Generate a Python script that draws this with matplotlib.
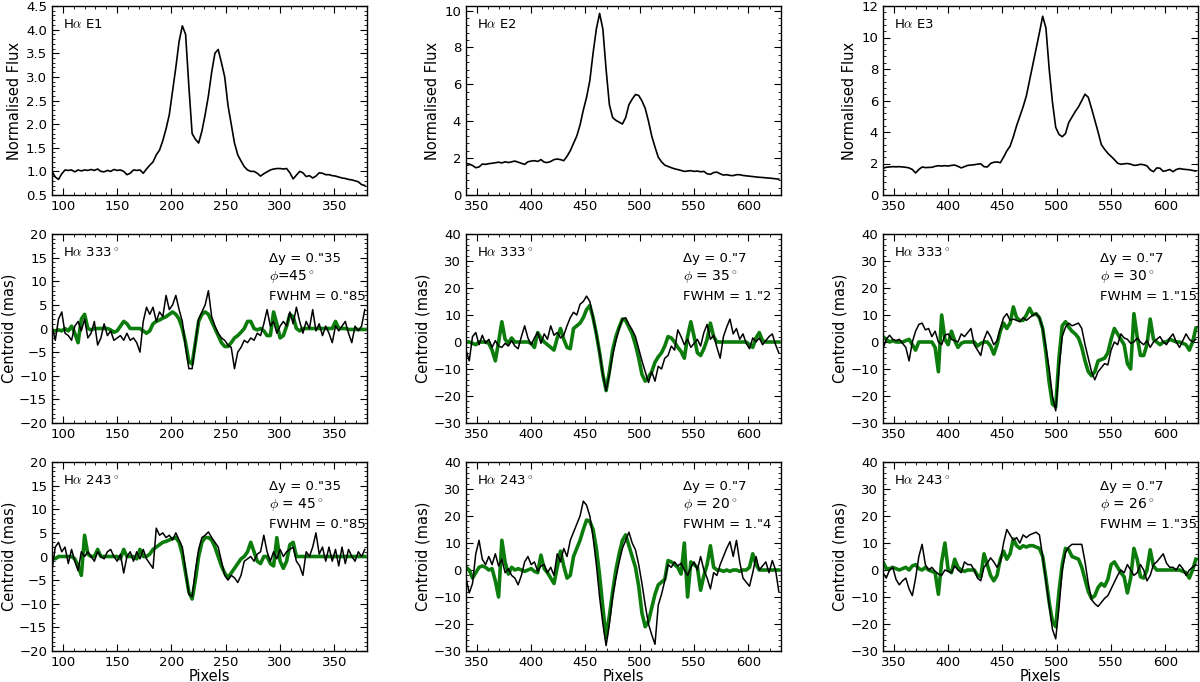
import numpy as np
import matplotlib
matplotlib.use("Agg")
import matplotlib.pyplot as plt
from matplotlib.ticker import AutoMinorLocator, MultipleLocator

PIX_E1 = np.arange(90, 381, 3)
PIX_E23 = np.arange(340, 631, 3)

flux_e1 = [1.00, 0.88, 0.83, 0.95, 1.03, 1.02, 1.03, 0.99, 1.03, 1.01,
           1.03, 1.02, 1.04, 1.02, 1.05, 1.00, 0.99, 1.02, 1.00, 1.04,
           1.02, 1.03, 1.00, 0.93, 0.96, 1.03, 1.02, 1.03, 0.96, 1.05,
           1.13, 1.20, 1.35, 1.45, 1.65, 1.90, 2.20, 2.70, 3.20, 3.75,
           4.08, 3.90, 2.80, 1.80, 1.68, 1.60, 1.85, 2.20, 2.60, 3.10,
           3.50, 3.58, 3.30, 3.00, 2.40, 2.00, 1.60, 1.35, 1.22, 1.10,
           1.03, 1.00, 1.00, 0.96, 0.90, 0.95, 0.99, 1.03, 1.05, 1.06,
           1.06, 1.05, 1.06, 0.97, 0.84, 0.92, 1.00, 0.97, 0.89, 0.91,
           0.86, 0.90, 0.97, 0.96, 0.93, 0.93, 0.91, 0.90, 0.88, 0.86,
           0.85, 0.83, 0.82, 0.80, 0.78, 0.72, 0.70]

flux_e2 = [1.70, 1.68, 1.60, 1.48, 1.52, 1.68, 1.66, 1.70, 1.72, 1.75,
           1.78, 1.74, 1.80, 1.76, 1.80, 1.84, 1.78, 1.72, 1.66, 1.80,
           1.84, 1.86, 1.82, 1.92, 1.78, 1.76, 1.82, 1.92, 1.95, 1.92,
           1.86, 2.10, 2.40, 2.80, 3.20, 3.80, 4.60, 5.30, 6.20, 7.70,
           9.00, 9.85, 9.00, 6.80, 4.90, 4.20, 4.05, 3.95, 3.85, 4.20,
           4.90, 5.20, 5.45, 5.40, 5.10, 4.70, 4.00, 3.20, 2.60, 2.05,
           1.80, 1.62, 1.55, 1.48, 1.42, 1.38, 1.33, 1.28, 1.30, 1.32,
           1.28, 1.30, 1.26, 1.28, 1.15, 1.12, 1.22, 1.24, 1.15, 1.08,
           1.10, 1.06, 1.05, 1.10, 1.10, 1.06, 1.04, 1.02, 1.00, 0.98,
           0.96, 0.95, 0.93, 0.92, 0.90, 0.88, 0.86]

flux_e3 = [1.70, 1.76, 1.78, 1.80, 1.79, 1.80, 1.78, 1.76, 1.72, 1.62,
           1.40, 1.62, 1.78, 1.74, 1.75, 1.76, 1.82, 1.86, 1.84, 1.86,
           1.84, 1.88, 1.90, 1.82, 1.72, 1.80, 1.88, 1.90, 1.92, 1.96,
           1.98, 1.80, 1.78, 2.00, 2.08, 2.10, 2.05, 2.40, 2.80, 3.10,
           3.70, 4.40, 5.00, 5.60, 6.30, 7.30, 8.30, 9.30, 10.30, 11.35,
           10.60, 8.00, 5.90, 4.30, 3.85, 3.70, 3.90, 4.60, 4.95, 5.30,
           5.60, 6.00, 6.40, 6.20, 5.50, 4.75, 4.00, 3.20, 2.90, 2.65,
           2.45, 2.25, 2.02, 1.95, 1.98, 2.00, 1.96, 1.88, 1.90, 1.95,
           1.92, 1.85, 1.60, 1.48, 1.72, 1.70, 1.50, 1.55, 1.62, 1.48,
           1.62, 1.68, 1.64, 1.62, 1.60, 1.56, 1.52]

# centroid, E1 slit at 333 deg: observed (black) and model (green)
e1_333_obs = [0.5, -2.5, 2.0, 3.5, -1.0, -1.5, -2.5, 0.5, 1.5, -0.5,
              2.0, -2.0, -1.0, 1.5, -3.5, -2.0, 1.0, -1.5, -0.5, -2.5,
              -2.0, -1.5, -2.5, -1.0, -2.5, -2.0, -3.0, -5.0, 1.5, 4.5,
              3.0, 4.5, 1.5, 3.5, 2.5, 7.0, 4.0, 5.0, 7.0, 4.0,
              1.5, -4.0, -8.5, -8.5, -3.0, 2.0, 3.5, 5.0, 8.0, 2.5,
              0.5, -1.0, -2.0, -2.5, -3.5, -4.0, -8.5, -5.0, -4.0, -2.5,
              -3.0, -2.0, -2.5, -1.0, -1.5, 1.0, 4.0, 0.5, 1.5, -1.0,
              0.5, 1.5, 0.5, 3.5, 1.0, 4.5, 1.5, -1.0, 1.5, 0.0,
              4.0, -0.5, 1.0, -1.5, 0.5, -1.0, -3.0, 0.5, -0.5, 0.5,
              1.5, -1.0, -3.0, 0.5, -0.5, 0.5, 4.0]
e1_333_mod = [-0.5, -0.5, -0.3, -0.5, 0.0, -0.5, 0.5, -1.0, -3.0, 2.0,
              3.0, 0.0, -0.3, 0.0, 0.0, 0.0, 0.0, 0.0, -0.3, -0.8,
              -0.5, 0.5, 1.5, 1.0, 0.0, 0.0, 0.0, 0.0, -0.5, -1.0,
              -0.5, 1.0, 1.5, 1.8, 2.2, 2.5, 3.0, 3.5, 3.0, 2.0,
              0.0, -3.0, -7.0, -7.5, -3.0, 1.5, 3.0, 3.5, 3.0, 1.5,
              0.0, -1.5, -3.0, -3.8, -3.8, -3.0, -2.0, -1.5, -0.8, 0.0,
              1.5, 1.5, 0.0, -0.3, 0.0, -0.5, -1.5, -1.5, 3.5, 1.0,
              -2.0, -1.5, 0.5, 3.0, 2.5, 0.0, -0.5, 0.0, 0.0, 0.0,
              0.0, 0.0, 0.0, 0.0, 0.0, 0.0, 0.0, 1.5, 0.0, 0.0,
              0.0, -0.2, -0.2, -0.2, -0.2, -0.2, -0.2]

# centroid, E1 slit at 243 deg
e1_243_obs = [-3.0, 2.0, 3.0, 1.0, 2.0, -1.5, 1.5, -1.0, -3.0, 1.0,
              0.0, 1.0, 0.0, -1.0, 1.0, 0.0, -0.5, 1.0, 1.5, 0.0,
              -1.0, 0.5, -3.5, 0.0, 1.0, -1.0, 1.0, -0.5, 1.5, -0.5,
              -1.5, -2.5, 6.0, 4.5, 5.0, 4.0, 4.5, 3.5, 5.0, 3.5,
              2.0, -3.0, -8.0, -8.5, -3.0, 1.5, 4.0, 4.5, 5.2, 4.0,
              3.0, 2.0, -1.0, -4.0, -5.0, -4.0, -4.5, -5.5, -4.0, -1.0,
              -0.5, 0.0, -1.0, 0.5, 1.0, 4.5, 1.0, -1.0, 1.0, -0.5,
              1.5, 0.0, 1.0, 1.5, 2.0, -1.0, -2.0, -4.0, 1.0, 0.0,
              2.0, 5.0, 0.5, 2.0, -1.0, 2.0, -1.0, 1.5, -2.0, 2.0,
              -1.5, 1.5, 0.0, -1.0, 1.0, 0.0, 1.5]
e1_243_mod = [0.0, -0.5, 0.0, 0.0, 0.0, 0.0, 0.0, -0.5, -2.0, -4.0,
              4.5, 0.5, 0.0, 0.0, 1.5, 0.0, 0.0, 0.0, 0.0, 0.0,
              0.0, -0.5, 1.5, 0.0, 0.0, 0.0, -0.5, 1.5, 0.0, 0.0,
              0.5, 1.5, 2.0, 2.5, 3.0, 3.2, 3.5, 3.8, 4.0, 3.0,
              0.5, -3.5, -7.5, -9.0, -5.0, 0.0, 3.0, 4.0, 4.0, 3.5,
              2.0, 0.0, -2.0, -3.5, -4.5, -3.5, -2.5, -1.5, -0.5, 0.0,
              1.0, 3.0, 1.0, -1.0, -1.5, 0.0, 0.0, -1.5, -2.0, 4.0,
              -1.0, -2.5, -1.0, 2.5, 3.0, 0.0, 0.0, 0.0, 0.0, 0.0,
              0.0, 0.0, 0.0, 0.0, 0.0, 0.0, 0.0, 0.0, 0.0, 0.0,
              0.0, 0.0, 0.0, 0.0, 0.0, 0.0, 0.0]

# centroid, E2 slit at 333 deg
e2_333_obs = [-3.0, -7.0, 2.0, 3.5, -1.0, 2.5, -0.5, 1.0, -2.0, 0.5,
              -1.5, -2.0, -0.5, -1.5, 0.5, -1.5, -2.5, 2.0, 6.0, 1.5,
              -1.0, 1.5, 3.5, -0.5, 3.0, 1.0, 6.0, 2.5, 3.5, 1.5,
              2.5, 6.0, 9.0, 11.0, 10.0, 14.0, 15.0, 17.0, 15.0, 9.0,
              3.0, -4.0, -12.0, -18.0, -12.0, -5.0, 0.5, 5.0, 8.5, 9.0,
              6.5, 4.5, 2.0, -2.5, -7.0, -11.0, -15.0, -11.0, -14.5, -9.0,
              -10.0, -6.0, -5.0, -1.5, -3.0, 4.5, 2.0, -1.0, 1.0, -2.0,
              -0.5, 1.0, -1.5, 3.5, 6.5, 1.0, 2.5, -2.0, -6.0, 2.0,
              5.5, 8.5, 3.0, 5.0, 1.0, 3.0, -0.5, -2.5, 1.5, 0.0,
              1.5, -1.0, 0.5, 2.0, 3.0, -1.0, -4.0]
e2_333_mod = [0.0, 0.0, -0.5, -1.0, 0.0, 0.0, 0.0, -0.5, -3.0, -7.0,
              0.0, 7.5, 1.0, -0.5, 1.5, 0.0, 0.0, 0.0, 0.0, 0.0,
              -0.5, -2.0, 3.5, 1.5, 0.0, -1.0, -2.0, -3.0, 1.5, 5.0,
              1.0, -2.0, -2.5, 5.0, 6.0, 7.0, 9.0, 12.0, 13.5, 9.0,
              3.0, -4.0, -12.0, -18.0, -11.0, -3.0, 2.0, 5.5, 8.5, 8.0,
              5.5, 3.0, -1.0, -6.0, -12.0, -14.5, -13.0, -11.0, -7.5, -5.5,
              -4.0, -1.5, 2.0, 1.5, 0.0, -2.0, -3.5, -6.0, 2.0, 7.5,
              2.0, -4.0, -5.0, -2.5, 1.0, 7.0, 2.0, 0.0, 0.0, 0.0,
              0.0, 0.0, 0.0, 0.0, 0.0, 0.0, 0.0, -1.0, -2.0, 1.5,
              3.5, 0.5, 0.0, 0.0, 0.0, 0.0, 0.0]

# centroid, E2 slit at 243 deg
e2_243_obs = [-3.0, -8.5, -5.0, 6.0, 11.0, 4.0, 2.0, 5.0, 2.0, 6.0,
              1.5, 4.0, -1.0, 0.5, -2.0, -3.0, -5.5, -2.0, 3.0, 5.0,
              2.0, 3.0, -0.5, 1.5, 2.0, -1.0, 1.0, -2.0, 6.0, 3.0,
              8.0, 5.0, 11.0, 14.0, 17.0, 20.0, 25.5, 24.0, 20.0, 12.0,
              2.0, -10.0, -20.0, -28.0, -20.0, -10.0, -3.0, 3.0, 8.0, 11.0,
              14.0, 10.0, 7.5, 2.0, -5.0, -13.0, -20.0, -24.0, -27.5, -13.0,
              -9.0, -4.0, 2.0, 1.0, 3.0, 1.5, 2.5, 0.0, -2.0, 1.0,
              3.0, 0.0, 5.0, 0.0, -3.0, -7.0, -1.0, -2.0, 2.0, 5.0,
              8.0, 10.5, 5.0, 11.0, 3.0, -3.0, -4.5, -6.0, -1.0, 5.0,
              0.0, 1.5, 3.0, -1.0, 3.5, 0.0, -8.0]
e2_243_mod = [1.0, 0.0, -3.0, -1.0, 1.0, 1.5, 1.0, 0.0, 0.5, -4.0,
              -10.0, 11.0, 3.0, -1.5, 1.0, 0.0, 0.5, 0.0, -0.5, 0.0,
              0.5, -0.5, -1.0, 5.5, 0.5, -1.0, -3.0, -5.0, 1.0, 7.0,
              1.5, -3.0, -2.0, 5.0, 8.0, 11.0, 15.0, 18.5, 18.0, 15.0,
              8.0, -2.0, -14.0, -25.0, -17.0, -8.0, 0.0, 6.0, 11.0, 13.0,
              9.0, 5.0, 1.0, -6.0, -16.0, -21.0, -19.0, -14.0, -9.0, -5.5,
              -4.5, -3.5, 3.5, 3.0, 2.0, 1.0, -1.5, 10.0, -10.0, 3.0,
              2.0, 1.0, -7.5, -2.0, 2.0, 9.0, 1.0, 0.0, 0.0, -0.5,
              0.0, -0.5, 0.0, 0.0, -0.5, 0.0, 0.0, 1.0, 6.0, 2.0,
              0.0, 0.0, 0.0, 0.0, 0.0, 0.0, 0.0]

# centroid, E3 slit at 333 deg
e3_333_obs = [-2.5, 1.0, 2.5, 1.0, 0.5, 1.0, -0.5, -2.0, -7.0, 0.0,
              4.0, 6.5, 7.0, 4.5, 5.0, 2.0, 4.0, 0.0, -1.0, 2.5,
              3.0, 1.0, 0.5, 0.0, 3.0, 2.0, 3.5, 5.0, -1.0, -3.0,
              -5.0, 1.0, 4.0, 2.0, -1.0, 0.5, 5.0, 9.0, 10.5, 8.0,
              8.5, 8.0, 7.5, 9.0, 8.0, 9.0, 10.0, 10.5, 9.0, 5.0,
              -2.0, -10.0, -20.0, -25.5, -10.0, 2.0, 5.5, 7.0, 6.0, 6.5,
              7.0, 5.0, -1.0, -6.0, -11.0, -14.0, -11.0, -9.5, -8.0, -8.5,
              -3.0, 0.0, -1.0, 3.0, 1.5, 1.0, -0.5, 0.0, 1.5, 0.0,
              -1.0, 0.5, -2.0, 0.0, 1.0, 2.0, 0.0, -1.0, 1.5, 3.0,
              0.0, -2.0, 0.5, 3.0, 1.0, 0.0, 1.0]
e3_333_mod = [2.0, 1.0, 0.0, 0.5, 0.0, 0.0, 0.0, 0.5, 1.0, -1.0,
              -3.0, 0.0, 0.0, 0.0, 0.0, 0.0, -2.0, -11.0, 10.0, 1.0,
              -1.0, 4.0, 0.5, -2.0, -0.5, 0.0, 0.0, 0.0, 0.0, -1.5,
              -0.5, 0.0, 0.0, -1.5, -4.5, -1.0, 4.0, 7.0, 5.0, 7.0,
              13.0, 9.0, 8.0, 8.0, 10.0, 12.5, 10.0, 10.5, 9.0, 5.0,
              -4.0, -15.0, -23.0, -24.0, -6.0, 6.0, 7.5, 5.5, 4.0, 3.0,
              1.5, -2.0, -7.0, -11.0, -12.5, -11.0, -7.0, -6.5, -6.0, -4.0,
              1.0, 5.0, 3.0, 1.0, -1.0, -8.0, -10.0, 10.5, 2.0, -5.0,
              -5.0, -1.0, 8.5, 1.0, 0.0, -1.0, 0.0, 0.0, 1.0, 0.5,
              0.0, 0.0, -0.5, -1.0, -3.0, 0.0, 5.0]

# centroid, E3 slit at 243 deg
e3_243_obs = [-1.0, -3.0, 0.0, 1.0, -3.5, -5.5, -4.0, -3.0, -7.0, -9.5,
              -3.0, 5.0, 9.5, 2.0, 0.0, 1.0, -0.5, -1.5, -2.0, 0.0,
              -0.5, -1.0, 1.5, 0.0, -1.0, 3.0, 2.0, 2.0, 0.0, -3.0,
              -4.0, 1.0, 2.5, 4.5, 3.0, 1.0, 3.0, 10.0, 15.0, 13.0,
              11.0, 12.0, 10.0, 13.0, 12.0, 13.0, 13.5, 14.0, 13.0, 5.0,
              -4.0, -13.0, -22.0, -25.5, -14.0, 0.0, 6.5, 8.5, 9.5, 9.5,
              9.5, 9.5, 3.0, -5.0, -11.0, -12.5, -13.5, -12.0, -10.5, -9.5,
              -7.0, -4.5, -2.0, 0.0, -1.0, 2.0, 0.0, -2.0, -1.0, 2.0,
              0.0, -4.0, -2.0, 2.0, 3.0, 4.5, 6.0, 2.5, 1.0, 1.0,
              0.0, 2.0, 0.5, -2.0, 0.0, 1.0, 2.0]
e3_243_mod = [3.0, 0.5, 0.5, 1.0, 0.5, 0.0, 0.5, 1.0, 0.0, 1.5,
              2.0, 0.5, 0.0, 1.0, 0.0, -0.5, -1.0, -9.0, 3.0, 10.0,
              0.0, -1.0, 4.0, 1.0, 0.0, -0.5, 0.0, 0.0, 0.0, -2.0,
              -2.5, 6.0, 2.0, -2.0, -4.0, -2.0, 4.0, 7.0, 4.0, 6.0,
              11.5, 9.0, 8.0, 9.0, 8.5, 9.0, 9.0, 8.5, 8.0, 5.0,
              -3.0, -12.0, -19.0, -21.0, -8.0, 2.0, 8.0, 7.5, 5.0, 4.5,
              4.0, 1.0, -3.5, -8.0, -10.5, -9.5, -6.5, -5.0, -6.0, -3.5,
              2.0, 3.0, 1.0, -1.0, -2.5, -8.5, -3.0, 8.0, 4.0, -2.5,
              -3.0, 0.0, 7.5, 1.5, 0.0, 0.0, 0.0, 0.0, 0.0, 0.0,
              0.0, 0.0, -0.5, -1.0, -3.0, 0.0, 4.0]

params_333 = [('0."35', r'$\phi$=45$^\circ$', '0."85'),
              ('0."7', r'$\phi$ = 35$^\circ$', '1."2'),
              ('0."7', r'$\phi$ = 30$^\circ$', '1."15')]
params_243 = [('0."35', r'$\phi$ = 45$^\circ$', '0."85'),
              ('0."7', r'$\phi$ = 20$^\circ$', '1."4'),
              ('0."7', r'$\phi$ = 26$^\circ$', '1."35')]

plt.rcParams.update({
    "font.family": "DejaVu Sans", "font.size": 9.5,
    "mathtext.fontset": "cm",
    "xtick.direction": "in", "ytick.direction": "in",
    "xtick.top": True, "ytick.right": True,
    "xtick.major.size": 5, "ytick.major.size": 5,
    "xtick.minor.size": 2.5, "ytick.minor.size": 2.5,
    "xtick.labelsize": 9.5, "ytick.labelsize": 9.5,
    "axes.labelsize": 10.5,
    "axes.linewidth": 1.0,
})

GREEN = "#0c7d0c"
COL_X = [52, 466, 883]
ROW_Y = [6, 234, 462]
W, H = 315, 189
TXT = 9.5

fig = plt.figure(figsize=(12, 6.82), dpi=100)


def panel(col, row):
    ax = fig.add_axes([COL_X[col] / 1200, 1 - (ROW_Y[row] + H) / 682,
                       W / 1200, H / 682])
    ax.xaxis.set_minor_locator(AutoMinorLocator(5))
    ax.yaxis.set_minor_locator(AutoMinorLocator(5))
    ax.tick_params(which="both", direction="in", top=True, right=True)
    return ax


fluxes = [(PIX_E1, flux_e1, "E1", (0.5, 4.5), 0.5),
          (PIX_E23, flux_e2, "E2", (0, 10.25), 2),
          (PIX_E23, flux_e3, "E3", (0, 12), 2)]
for c, (px, fl, name, ylim, step) in enumerate(fluxes):
    ax = panel(c, 0)
    ax.plot(px, fl, color="black", lw=1.2)
    ax.set_xlim(px[0], 380 if c == 0 else 630)
    ax.set_ylim(*ylim)
    ax.yaxis.set_major_locator(MultipleLocator(step))
    ax.set_ylabel("Normalised Flux", labelpad=3)
    ax.text(0.035, 0.9, r"H$\alpha$ " + name, transform=ax.transAxes,
            fontsize=TXT, va="center")

cents = [[(e1_333_obs, e1_333_mod), (e2_333_obs, e2_333_mod), (e3_333_obs, e3_333_mod)],
         [(e1_243_obs, e1_243_mod), (e2_243_obs, e2_243_mod), (e3_243_obs, e3_243_mod)]]
for r, (angle, pars) in enumerate([("333", params_333), ("243", params_243)]):
    for c in range(3):
        ax = panel(c, r + 1)
        px = PIX_E1 if c == 0 else PIX_E23
        obs, mod = cents[r][c]
        ax.plot(px, obs, color="black", lw=1.1, zorder=3)
        ax.plot(px, mod, color=GREEN, lw=2.6, zorder=2)
        ax.set_xlim(px[0], 380 if c == 0 else 630)
        if c == 0:
            ax.set_ylim(-20, 20)
            ax.yaxis.set_major_locator(MultipleLocator(5))
        else:
            ax.set_ylim(-30, 40)
            ax.yaxis.set_major_locator(MultipleLocator(10))
        ax.set_ylabel("Centroid (mas)", labelpad=2)
        ax.text(0.035, 0.9, r"H$\alpha$ " + angle + r"$^\circ$",
                transform=ax.transAxes, fontsize=TXT, va="center")
        dy, phi, fw = pars[c]
        ax.text(0.69, 0.87, "Δy = " + dy, transform=ax.transAxes,
                fontsize=TXT, va="center")
        ax.text(0.69, 0.77, phi, transform=ax.transAxes,
                fontsize=TXT + 0.5, va="center")
        ax.text(0.69, 0.67, "FWHM = " + fw, transform=ax.transAxes,
                fontsize=TXT, va="center")
        if r == 1:
            ax.set_xlabel("Pixels", labelpad=0)

fig.savefig("out.png", dpi=100)
